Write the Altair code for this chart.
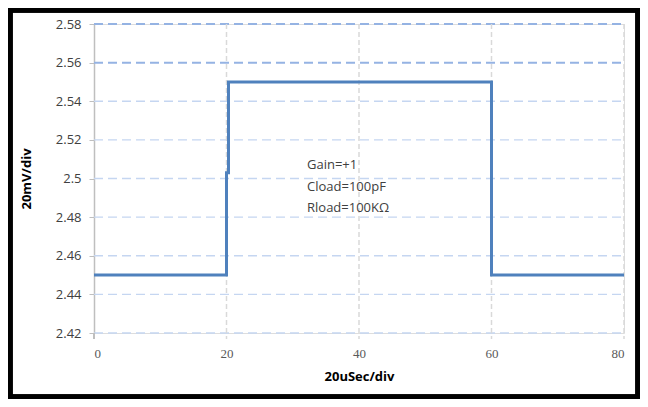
import altair as alt
import pandas as pd

# step response trace
t_us = [0, 20, 20, 20.3, 20.3, 60, 60, 80]
volts = [2.45, 2.45, 2.503, 2.503, 2.55, 2.55, 2.45, 2.45]

y_grid = [2.42, 2.44, 2.46, 2.48, 2.50, 2.52, 2.54, 2.56, 2.58]
y_grid_strong = [2.56, 2.58]
x_ticks = [0, 20, 40, 60, 80]
x_grid = [20, 40, 60, 80]

notes = ["Gain=+1", "Cload=100pF", "Rload=100K\u03a9"]
note_y = [2.507, 2.4957, 2.4847]

W, H = 530, 309
PL, PT, PR, PB = 86, 16, 16, 66

trace = pd.DataFrame({"t": t_us, "v": volts})
grid_df = pd.DataFrame({"v": y_grid, "strong": [v in y_grid_strong for v in y_grid]})
xg_df = pd.DataFrame({"t": x_grid})
note_df = pd.DataFrame({"label": notes, "v": note_y})

xs = alt.Scale(domain=[0, 80], nice=False, zero=False)
ys = alt.Scale(domain=[2.42, 2.58], nice=False, zero=False)

x_axis = alt.Axis(values=x_ticks, grid=False, domain=False,
                  ticks=False, labelPadding=14, labelFontSize=13,
                  labelColor="#595959", labelFont="Liberation Serif",
                  labelOverlap=False,
                  titleFontSize=13, titleFont="Open Sans", titleFontWeight="bold",
                  titleColor="#000000", titlePadding=10)
y_axis = alt.Axis(values=y_grid, format=".2~f", grid=False, domain=True,
                  domainColor="#BFBFBF", domainWidth=1.5, tickColor="#BFBFBF",
                  tickSize=5, labelPadding=8, labelFontSize=13, labelColor="#404040",
                  labelFont="Open Sans", labelOverlap=False, labelBound=False,
                  titleFontSize=13, titleFont="Open Sans",
                  titleFontWeight="bold", titleColor="#000000", titlePadding=22)

X = lambda: alt.X("t:Q", scale=xs, title="20uSec/div", axis=x_axis)
Y = lambda: alt.Y("v:Q", scale=ys, title="20mV/div", axis=y_axis)

vgrid = alt.Chart(xg_df).mark_rule(color="#D9D9D9", strokeDash=[5, 3], strokeWidth=1.5).encode(
    x=X(),
    y=alt.value(0),
    y2=alt.value(H + 6),
)

hgrid = alt.Chart(grid_df).mark_rule(strokeDash=[9, 5]).encode(
    y=Y(),
    x=alt.value(0),
    x2=alt.value(W),
    color=alt.condition("datum.strong", alt.value("#95B3E3"), alt.value("#C5D6F1")),
    strokeWidth=alt.condition("datum.strong", alt.value(2), alt.value(1.3)),
)

line = alt.Chart(trace).mark_line(color="#4F81BD", strokeWidth=3, strokeJoin="miter").encode(
    x=X(),
    y=Y(),
    order=alt.Order("idx:Q"),
).transform_window(idx="row_number()")

yaxis_ext = alt.Chart(xg_df).mark_rule(color="#BFBFBF", strokeWidth=1.5).encode(
    x=alt.value(0), y=alt.value(H), y2=alt.value(H + 6)
)

text = alt.Chart(note_df).mark_text(align="left", baseline="middle", fontSize=13,
                                    font="Open Sans", color="#404040").encode(
    x=alt.value(213),
    y=Y(),
    text="label:N",
)

frame = alt.Chart(xg_df).mark_rect(fill=None, stroke="#000000", strokeWidth=5).encode(
    x=alt.value(-PL + 2), x2=alt.value(W + PR - 2),
    y=alt.value(-PT + 2), y2=alt.value(H + PB - 2),
)

chart = alt.layer(hgrid, vgrid, yaxis_ext, line, text, frame).properties(
    width=W, height=H,
    autosize=alt.AutoSizeParams(type="none"),
    padding={"left": PL, "top": PT, "right": PR, "bottom": PB},
).configure_view(stroke=None).configure(background="#ffffff")

chart.save("out.html", embed_options={"renderer": "svg", "actions": False})
